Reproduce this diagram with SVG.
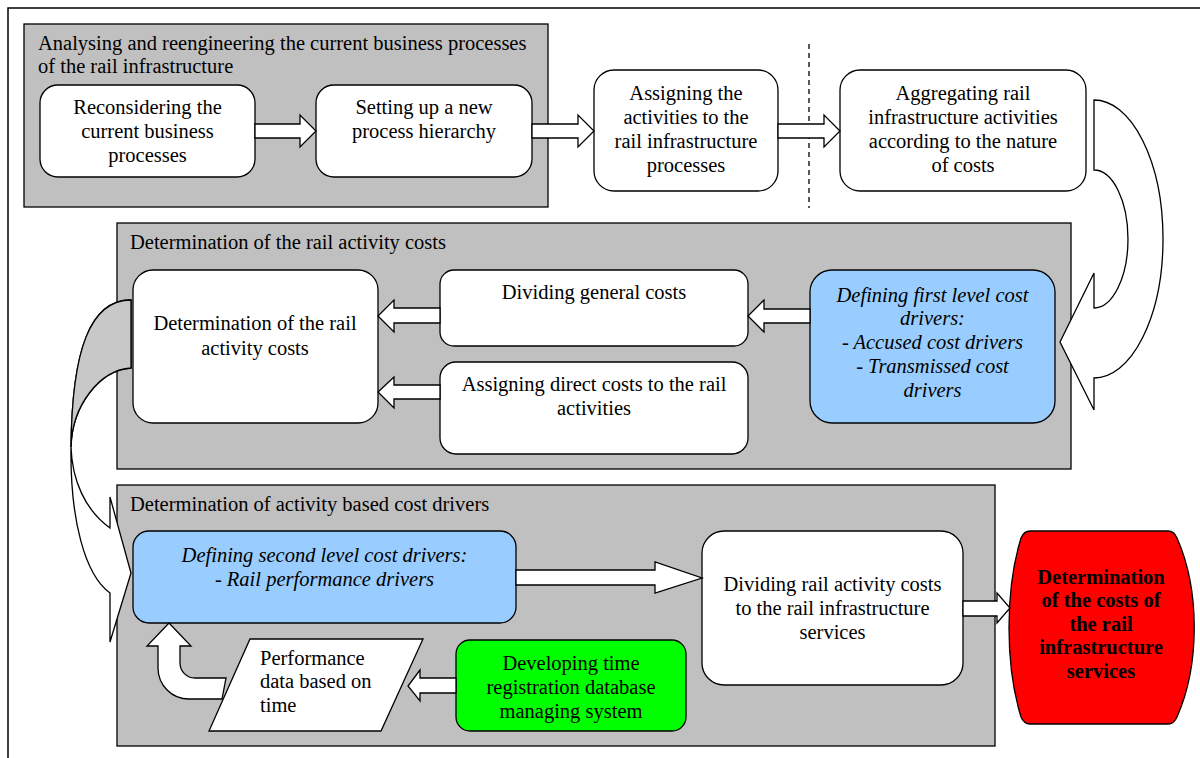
<svg xmlns="http://www.w3.org/2000/svg" width="1200" height="758" viewBox="0 0 1200 758">
<style>
text{font-family:"Liberation Serif","Times New Roman",serif;font-size:20.5px;fill:#000}
.c{text-anchor:middle}
.i{font-style:italic}
.b{font-weight:bold}
.grp{fill:#c0c0c0;stroke:#000;stroke-width:1.3}
.nd{fill:#fff;stroke:#000;stroke-width:1.3}
.ar{fill:#fff;stroke:#000;stroke-width:1.3;stroke-linejoin:miter}
</style>
<rect width="1200" height="758" fill="#fff"/>
<path d="M8,758 L8,8 L1200,8" fill="none" stroke="#000" stroke-width="1.5"/>

<g id="group1">
<rect class="grp" x="24" y="24" width="524" height="183"/>
<text x="38" y="50">Analysing and reengineering the current business processes</text>
<text x="38" y="73">of the rail infrastructure</text>
</g>
<g id="group2">
<rect class="grp" x="117" y="223" width="954" height="246"/>
<text x="130" y="249">Determination of the rail activity costs</text>
</g>
<g id="group3">
<rect class="grp" x="117" y="485" width="878" height="261"/>
<text x="130" y="511">Determination of activity based cost drivers</text>
</g>

<g id="n_reconsider">
<rect class="nd" x="40" y="85" width="215" height="92" rx="18"/>
<text class="c" x="147.5" y="114">Reconsidering the</text>
<text class="c" x="147.5" y="138">current business</text>
<text class="c" x="147.5" y="162">processes</text>
</g>
<g id="n_setup">
<rect class="nd" x="316" y="85" width="216" height="92" rx="18"/>
<text class="c" x="424" y="114">Setting up a new</text>
<text class="c" x="424" y="138">process hierarchy</text>
</g>
<g id="n_assign">
<rect class="nd" x="594" y="70" width="184" height="121" rx="20"/>
<text class="c" x="686" y="100">Assigning the</text>
<text class="c" x="686" y="124">activities to the</text>
<text class="c" x="686" y="148">rail infrastructure</text>
<text class="c" x="686" y="172">processes</text>
</g>
<g id="n_aggregate">
<rect class="nd" x="840" y="70" width="246" height="121" rx="20"/>
<text class="c" x="963" y="100">Aggregating rail</text>
<text class="c" x="963" y="124">infrastructure activities</text>
<text class="c" x="963" y="148">according to the nature</text>
<text class="c" x="963" y="172">of costs</text>
</g>
<g id="n_railcosts">
<rect class="nd" x="133" y="270" width="245" height="153" rx="20"/>
<text class="c" x="255" y="330">Determination of the rail</text>
<text class="c" x="255" y="355">activity costs</text>
</g>
<g id="n_general">
<rect class="nd" x="440" y="270" width="308" height="76" rx="14"/>
<text class="c" x="594" y="299">Dividing general costs</text>
</g>
<g id="n_direct">
<rect class="nd" x="440" y="362" width="308" height="92" rx="16"/>
<text class="c" x="594" y="391">Assigning direct costs to the rail</text>
<text class="c" x="594" y="415">activities</text>
</g>
<g id="n_first">
<rect x="810" y="270" width="245" height="153" rx="22" fill="#99ccff" stroke="#000" stroke-width="1.3"/>
<text class="c i" x="932.5" y="302">Defining first level cost</text>
<text class="c i" x="932.5" y="325">drivers:</text>
<text class="c i" x="932.5" y="349">- Accused cost drivers</text>
<text class="c i" x="932.5" y="373">- Transmissed cost</text>
<text class="c i" x="932.5" y="397">drivers</text>
</g>
<g id="n_second">
<rect x="133" y="531" width="383" height="92" rx="16" fill="#99ccff" stroke="#000" stroke-width="1.3"/>
<text class="c i" x="324.5" y="562">Defining second level cost drivers:</text>
<text class="c i" x="324.5" y="586">- Rail performance drivers</text>
</g>
<g id="n_dividing">
<rect class="nd" x="702" y="531" width="261" height="154" rx="22"/>
<text class="c" x="832.5" y="591">Dividing rail activity costs</text>
<text class="c" x="832.5" y="615">to the rail infrastructure</text>
<text class="c" x="832.5" y="639">services</text>
</g>
<g id="n_perf">
<polygon class="nd" points="250,639 423,639 381,731 209,731"/>
<text x="260" y="665">Performance</text>
<text x="260" y="688">data based on</text>
<text x="260" y="712">time</text>
</g>
<g id="n_green">
<rect x="456" y="640" width="230" height="91" rx="14" fill="#00ff00" stroke="#000" stroke-width="1.3"/>
<text class="c" x="571" y="670">Developing time</text>
<text class="c" x="571" y="694">registration database</text>
<text class="c" x="571" y="718">managing system</text>
</g>
<g id="n_red">
<path d="M1030,531 L1168,531 Q1174,531 1177,538 C1200,590 1200,665 1177,717 Q1174,724 1168,724 L1030,724 Q1024,724 1021,717 C1005,665 1005,590 1021,538 Q1024,531 1030,531 Z" fill="#ff0000" stroke="#000" stroke-width="1.3"/>
<text class="c b" x="1101" y="584">Determination</text>
<text class="c b" x="1101" y="607">of the costs of</text>
<text class="c b" x="1101" y="631">the rail</text>
<text class="c b" x="1101" y="654">infrastructure</text>
<text class="c b" x="1101" y="678">services</text>
</g>

<g id="connectors">
<line x1="809" y1="44" x2="809" y2="208" stroke="#000" stroke-width="1.3" stroke-dasharray="5,4"/>
<path class="ar" d="M255,124 L300,124 L300,115 L316,131 L300,147 L300,138 L255,138 Z"/>
<path class="ar" d="M532,124 L578,124 L578,115 L594,131 L578,147 L578,138 L532,138 Z"/>
<path class="ar" d="M778,124 L824,124 L824,115 L840,131 L824,147 L824,138 L778,138 Z"/>
<path class="ar" d="M1094,100 A69,139 0 0 1 1094,378 L1094,410 L1060,342 L1094,273 L1094,308 A34,69 0 0 0 1094,170 Z"/>
<path class="ar" d="M810,309 L764,309 L764,300 L748,316 L764,332 L764,323 L810,323 Z"/>
<path class="ar" d="M440,308 L394,308 L394,300 L378,316 L394,332 L394,323 L440,323 Z"/>
<path class="ar" d="M440,385 L394,385 L394,377 L378,392 L394,408 L394,399 L440,399 Z"/>
<path class="ar" d="M131,300 C90,300 72,350 71,447 C70,520 85,575 110,593 L110,642 L131,573 L110,497 L110,528 C85,510 72,480 71,447 C72,405 100,370 131,368 Z"/>
<path d="M131,300 C90,300 72,350 71,447 C72,405 100,370 131,368 Z" fill="#c8c8c8" stroke="#000" stroke-width="1.3"/>
<path class="ar" d="M516,570 L655,570 L655,562 L702,578 L655,593 L655,585 L516,585 Z"/>
<path class="ar" d="M963,601 L997,601 L997,593 L1010,608 L997,623 L997,616 L963,616 Z"/>
<path class="ar" d="M456,678 L420,678 L420,670 L408,686 L420,701 L420,693 L456,693 Z"/>
<path class="ar" d="M226,678 L195,678 A15,15 0 0 1 180,663 L180,646 L191,646 L169,623 L147,646 L158,646 L158,668 A31,31 0 0 0 189,699 L222,699 Z"/>
</g>
</svg>
